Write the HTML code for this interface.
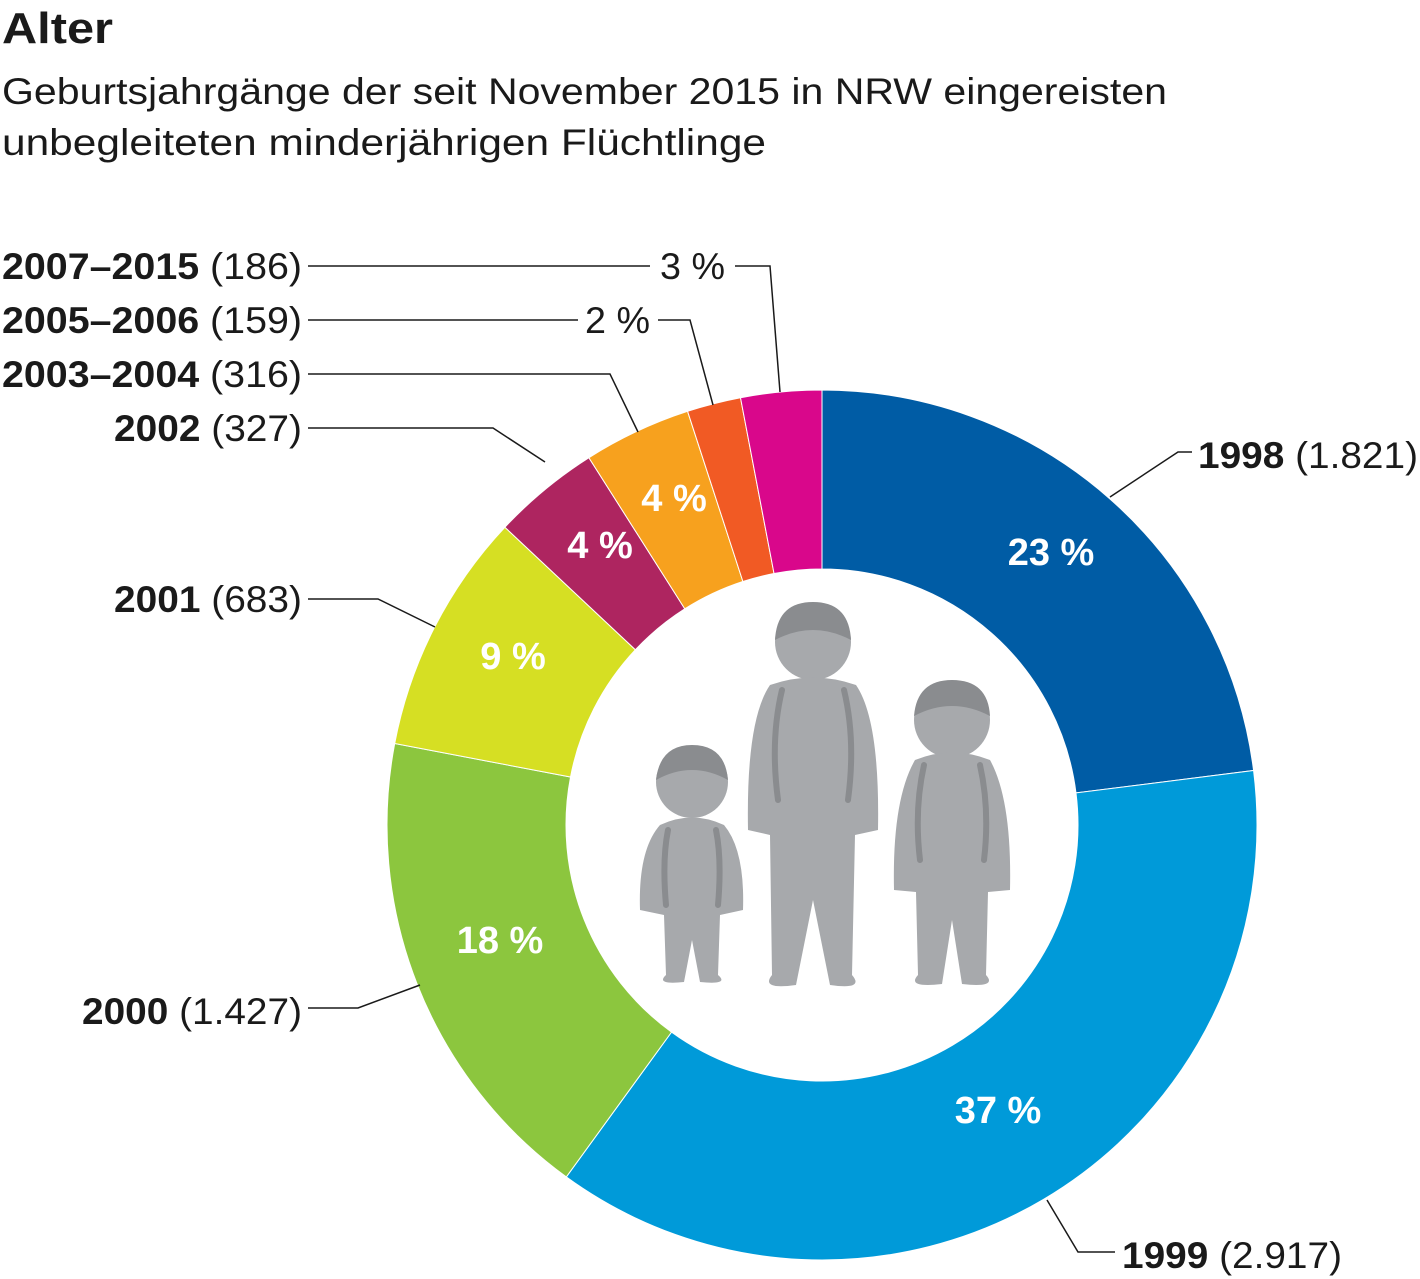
<!DOCTYPE html>
<html><head><meta charset="utf-8"><style>
body{margin:0;background:#fff;width:1420px;height:1279px;overflow:hidden}
svg{display:block}
text{font-family:"Liberation Sans",sans-serif}
</style></head><body>
<svg id="s" width="1420" height="1279" xmlns="http://www.w3.org/2000/svg">
<text x="2" y="43" font-size="44" font-weight="bold" fill="#1a1a1a" textLength="111" lengthAdjust="spacingAndGlyphs">Alter</text>
<text x="2" y="104" font-size="37" fill="#1a1a1a" textLength="1165" lengthAdjust="spacingAndGlyphs">Geburtsjahrgänge der seit November 2015 in NRW eingereisten</text>
<text x="2" y="155" font-size="37" fill="#1a1a1a" textLength="764" lengthAdjust="spacingAndGlyphs">unbegleiteten minderjährigen Flüchtlinge</text>
<g id="ring"></g>
<g fill="none" stroke="#1a1a1a" stroke-width="1.5">
<polyline points="308,266 650,266"/><polyline points="735,266 770,266 780,392"/>
<polyline points="308,320 578,320"/><polyline points="658,320 690,320 713,405"/>
<polyline points="308,374 610,374 638,432"/>
<polyline points="308,428 493,428 545,462"/>
<polyline points="308,599 378,599 435,627"/>
<polyline points="308,1008 358,1008 420,985"/>
<polyline points="1110,497 1178,452 1192,452"/>
<polyline points="1047,1200 1078,1252 1115,1252"/>
</g>
<g font-size="37" fill="#1a1a1a" lengthAdjust="spacingAndGlyphs">
<text x="2" y="279" textLength="300" lengthAdjust="spacingAndGlyphs"><tspan font-weight="bold">2007–2015</tspan> (186)</text>
<text x="2" y="333" textLength="300" lengthAdjust="spacingAndGlyphs"><tspan font-weight="bold">2005–2006</tspan> (159)</text>
<text x="2" y="387" textLength="300" lengthAdjust="spacingAndGlyphs"><tspan font-weight="bold">2003–2004</tspan> (316)</text>
<text x="114" y="441" textLength="188" lengthAdjust="spacingAndGlyphs"><tspan font-weight="bold">2002</tspan> (327)</text>
<text x="114" y="612" textLength="188" lengthAdjust="spacingAndGlyphs"><tspan font-weight="bold">2001</tspan> (683)</text>
<text x="82" y="1024" textLength="220" lengthAdjust="spacingAndGlyphs"><tspan font-weight="bold">2000</tspan> (1.427)</text>
<text x="1198" y="468" textLength="220" lengthAdjust="spacingAndGlyphs"><tspan font-weight="bold">1998</tspan> (1.821)</text>
<text x="1122" y="1268" textLength="220" lengthAdjust="spacingAndGlyphs"><tspan font-weight="bold">1999</tspan> (2.917)</text>
<text x="660" y="279" textLength="65" lengthAdjust="spacingAndGlyphs">3 %</text>
<text x="585" y="333" textLength="65" lengthAdjust="spacingAndGlyphs">2 %</text>
</g>
<g font-size="38" font-weight="bold" fill="#fff" text-anchor="middle">
<text x="1051" y="565">23 %</text>
<text x="998" y="1123">37 %</text>
<text x="500" y="953">18 %</text>
<text x="513" y="669">9 %</text>
<text x="600" y="558">4 %</text>
<text x="674" y="511">4 %</text>
</g>
<g fill="#a7a9ac">
<circle cx="692" cy="782" r="36"/><path d="M660,825 Q692,810 724,825 Q745,850 743,910 L720,915 L718,975 Q730,985 700,982 L692,940 L684,982 Q655,985 666,975 L664,915 L640,910 Q638,850 660,825Z"/>
<circle cx="813" cy="642" r="38"/><path d="M770,685 Q813,670 856,685 Q880,720 878,830 L855,835 L852,975 Q865,990 830,985 L813,900 L796,985 Q760,990 772,975 L770,835 L748,830 Q746,720 770,685Z"/>
<circle cx="952" cy="720" r="38"/><path d="M915,760 Q952,745 990,760 Q1012,800 1010,890 L988,892 L986,975 Q998,988 962,984 L952,920 L942,984 Q906,988 918,975 L916,892 L894,890 Q892,800 915,760Z"/>
</g>
<g fill="none" stroke="#8a8c8f" stroke-width="6" stroke-linecap="round">
<path d="M668,830 Q662,860 666,905"/><path d="M716,830 Q722,860 718,905"/>
<path d="M782,690 Q770,740 778,800"/><path d="M844,690 Q856,740 848,800"/>
<path d="M924,765 Q914,810 920,860"/><path d="M980,765 Q990,810 984,860"/>
</g>
<g fill="#8a8c8f">
<path d="M656,780 Q660,745 692,745 Q725,745 728,780 Q692,760 656,780Z"/>
<path d="M775,640 Q777,602 813,602 Q849,602 851,640 Q813,620 775,640Z"/>
<path d="M914,716 Q917,680 952,680 Q988,680 990,716 Q952,696 914,716Z"/>
</g>
</svg>
<script>
var d=[[23,"#005ca5"],[37,"#009ad9"],[18,"#8cc63e"],[9,"#d6df23"],[4,"#ae2560"],[4,"#f7a11e"],[2,"#f15a24"],[3,"#d9078b"]];
var T=100;
var cx=822,cy=825,R=435,r=256,a=0,g=document.getElementById("ring"),h="";
function p(ang,rad){return [cx+rad*Math.sin(ang),cy-rad*Math.cos(ang)];}
d.forEach(function(x){var b=a+x[0]/T*2*Math.PI,l=(b-a)>Math.PI?1:0;
var p1=p(a,R),p2=p(b,R),p3=p(b,r),p4=p(a,r);
h+='<path fill="'+x[1]+'" stroke="#fff" stroke-width="1" d="M'+p1+' A'+R+','+R+' 0 '+l+' 1 '+p2+' L'+p3+' A'+r+','+r+' 0 '+l+' 0 '+p4+'Z"/>';a=b;});
g.innerHTML=h;
</script>
</body></html>
